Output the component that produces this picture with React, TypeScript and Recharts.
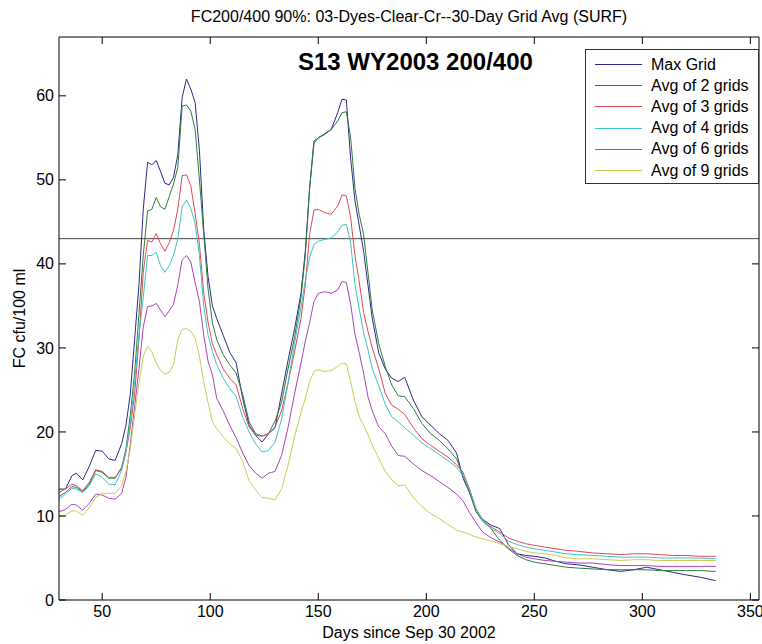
import React from 'react'
import { LineChart, Line, XAxis, YAxis, ReferenceLine, Legend, Label } from 'recharts'

// days since Sep 30 2002
const days = [
    30, 33, 36, 38, 41, 44, 47, 50, 53, 56,
    59, 61, 63, 65, 67, 69, 71, 73, 75, 77,
    79, 81, 83, 85, 87, 89, 91, 93, 95, 97,
    99, 101, 103, 106, 109, 112, 115, 118, 121, 124,
    127, 130, 133, 136, 139, 142, 144, 146, 148, 150,
    153, 156, 159, 161, 163, 165, 167, 169, 171, 173,
    175, 178, 181, 184, 187, 190, 194, 198, 202, 206,
    210, 214, 217, 220, 223, 226, 230, 234, 238, 242,
    246, 250, 255, 260, 265, 270, 277, 284, 290, 296,
    302, 308, 314, 320, 327, 334,
]

const maxGrid = [
    13.2, 13.2, 14.8, 15.1, 14.3, 15.9, 17.8, 17.7, 16.8, 16.6,
    18.6, 20.8, 24.5, 31, 37.5, 46.5, 52.1, 51.8, 52.3, 51,
    49.6, 49.4, 50.3, 53, 59.8, 62, 60.8, 59.2, 53.5, 44,
    38.5, 35, 33.5, 31.5, 29.5, 28.2, 24, 20.8, 19.6, 18.8,
    19.8, 20.5, 24.5, 28.5, 32.2, 36.5, 41.5, 49, 54.6, 55,
    55.5, 56, 58, 59.6, 59.5, 52.5, 47.5, 44.5, 41.5, 37.5,
    33.5, 29.4, 27.5, 26.4, 26, 26.5, 23.8, 21.8, 20.8, 19.8,
    19, 17.5, 14.5, 12.8, 10.8, 9.6, 8.9, 8.5, 6.6, 5.5,
    5.3, 5.2, 5.0, 4.6, 4.3, 4.2, 3.9, 3.6, 3.4, 3.6,
    3.9, 3.6, 3.3, 3.0, 2.7, 2.3,
]

const avg2 = [
    12.3, 12.8, 13.5, 13.4, 12.9, 13.8, 15.4, 15.2, 14.5, 14.5,
    15.8, 18, 22, 27, 34, 41, 46.3, 46.5, 47.9, 46.8,
    46.5, 48, 49.5, 51.5, 58.8, 58.9, 58.2, 56, 50, 43.5,
    37, 33, 31, 29.2, 28, 27, 24.5, 21.2, 19.8, 19.5,
    19.8, 21.3, 23.5, 27.5, 31.2, 36, 41, 49, 54.3, 55,
    55.4, 56, 57, 58, 58.1, 55, 49, 45.8, 43.5, 39,
    34.5, 30.5, 27.8, 25.6, 24.3, 24.2, 22.8, 21, 19.8, 19,
    18, 16.8, 14.8, 12.8, 10.5, 9.4, 8.5, 7.1, 6.1, 5.3,
    4.8, 4.5, 4.3, 4.1, 3.9, 3.8, 3.7, 3.6, 3.6, 3.6,
    3.6, 3.5, 3.5, 3.5, 3.5, 3.4,
]

const avg3 = [
    12.8, 13.2, 13.8, 13.6, 13.0, 14.0, 15.5, 15.3, 14.6, 14.6,
    15.6, 17.6, 20.5, 24.5, 31, 39, 42.8, 42.6, 43.6, 42.4,
    41.5, 42.5, 44, 46.5, 50.5, 50.6, 49.3, 46, 42.4, 36.5,
    33, 30.5, 29.2, 27.5, 26.4, 25.6, 22.8, 20.6, 19.6, 19.5,
    19.8, 20.6, 22.5, 25.8, 29.5, 33.5, 37.5, 43.5, 46.4, 46.5,
    46.1, 45.9, 46.9, 48.2, 48.1, 45.5, 41, 37.8, 34.2, 32,
    30, 27.5, 24.6, 23.2, 22.7, 22.1, 20.5, 19.2, 18.4, 17.7,
    17, 16.1, 15.2, 13.2, 10.8, 9.5, 8.7, 8.1, 7.4, 7.0,
    6.7, 6.5, 6.3, 6.1, 5.9, 5.8, 5.6, 5.5, 5.4, 5.5,
    5.5, 5.4, 5.3, 5.3, 5.2, 5.2,
]

const avg4 = [
    12.0, 12.6, 13.3, 13.2, 12.8, 13.6, 15.0, 14.6, 13.8, 13.7,
    15.4, 17.8, 21, 26, 31.5, 36, 41, 41, 41.4, 39.8,
    39, 39.8, 41, 43, 46.8, 47.6, 46.6, 44.8, 41, 35,
    31.5, 29.6, 28, 26.4, 25.2, 24.2, 21.8, 20, 18.6, 17.6,
    17.8, 18.8, 21.5, 25.8, 30.5, 34.8, 38, 40.8, 42.3, 42.7,
    42.9, 43.1, 43.8, 44.6, 44.7, 42.5, 37.5, 34.6, 31.8, 29.8,
    27.5, 25.5, 23.3, 21.8, 21.2, 20.5, 19.6, 18.7, 18, 17.3,
    16.6, 15.8, 14.8, 13.2, 10.9, 9.5, 8.5, 7.9, 7.0, 6.6,
    6.3, 6.1, 5.9, 5.7, 5.5, 5.4, 5.3, 5.2, 5.1, 5.1,
    5.1, 5.0, 5.0, 5.0, 5.0, 4.9,
]

const avg6 = [
    10.5, 10.8, 11.4, 11.3, 10.7, 11.5, 12.6, 12.5, 12.1, 12.0,
    12.7, 14.6, 18.5, 23, 27.5, 32.5, 34.9, 35, 35.3, 34.5,
    33.7, 34.4, 35.2, 37.5, 40.5, 41, 40.2, 37.8, 35.5, 31.5,
    28.4, 26.8, 24, 22.5, 20.8, 19.3, 17.5, 16, 15.1, 14.5,
    15.1, 15.3, 17.2, 20.5, 24.5, 28.2, 30.8, 33, 35.5, 36.5,
    36.7, 36.5, 36.9, 37.9, 37.8, 35.2, 31.6, 29.4, 27, 24.2,
    22.5, 20.6, 19.8, 18.3, 17.2, 17.1, 16.2, 15.4, 14.8, 14.1,
    13.4, 12.6, 11.8, 10.4, 9.2, 8.1, 7.4, 6.9, 6.2, 5.5,
    5.1, 4.9, 4.7, 4.6, 4.5, 4.4, 4.4, 4.2, 4.1, 4.1,
    4.1, 4.0, 4.0, 4.0, 4.0, 4.0,
]

const avg9 = [
    9.9, 10.1, 10.6, 10.6, 10.1, 11.0, 12.2, 12.7, 12.7, 12.7,
    13.6, 15.3, 18, 22, 25.8, 29, 30.2, 29.5, 28.2, 27.3,
    26.9, 27.1, 28, 31, 32.2, 32.3, 32, 31.2, 29, 26,
    23.5, 21.2, 20.4, 19.4, 18.6, 18, 16.5, 14.2, 13.1, 12.2,
    12.1, 11.9, 13.2, 16, 19.4, 22.3, 24, 26, 27.2, 27.4,
    27.2, 27.3, 27.8, 28.2, 28.1, 26, 23.6, 21.8, 20.8, 19.7,
    18.4, 16.9, 15.3, 14.3, 13.6, 13.7, 12.2, 11.1, 10.3, 9.7,
    9.0, 8.3, 8.1, 7.8, 7.5, 7.3, 7.0, 6.7, 6.4, 6.1,
    5.8, 5.6, 5.5, 5.3, 5.0, 4.9, 4.9, 4.8, 4.7, 4.8,
    4.8, 4.7, 4.7, 4.7, 4.7, 4.7,
]

const seriesNames = ['Max Grid', 'Avg of 2 grids', 'Avg of 3 grids', 'Avg of 4 grids', 'Avg of 6 grids', 'Avg of 9 grids']
const xTicks = [50, 100, 150, 200, 250, 300, 350]
const yTicks = [0, 10, 20, 30, 40, 50, 60]
const standardValue = 43

const chartTitle = 'FC200/400 90%: 03-Dyes-Clear-Cr--30-Day Grid Avg (SURF)'
const stationLabel = 'S13 WY2003 200/400'

const series = [
    { key: 'maxGrid', values: maxGrid, color: '#2a2a8c' },
    { key: 'avg2', values: avg2, color: '#2e7d3e' },
    { key: 'avg3', values: avg3, color: '#dc4a55' },
    { key: 'avg4', values: avg4, color: '#3cc3c3' },
    { key: 'avg6', values: avg6, color: '#a944b8' },
    { key: 'avg9', values: avg9, color: '#cccc55' },
]

const data = days.map((day, i) => {
    const row: { [key: string]: number } = { day }
    series.forEach(s => { row[s.key] = s.values[i] })
    return row
})

const FONT = '"Liberation Sans", Arial, sans-serif'
const TICK_LEN = 7
const X_GAP = 4
const Y_GAP = 5

function BottomTick(props: any) {
    const { x, y, payload } = props
    const axisY = y - X_GAP
    return (
        <g>
            <line x1={x} x2={x} y1={axisY} y2={axisY - TICK_LEN} stroke="#000" />
            <text x={x} y={y} dy="0.8em" textAnchor="middle" fontSize={16} fontFamily={FONT} fill="#000">
                {payload.value}
            </text>
        </g>
    )
}

function LeftTick(props: any) {
    const { x, y, payload } = props
    const axisX = x + Y_GAP
    return (
        <g>
            <line x1={axisX} x2={axisX + TICK_LEN} y1={y} y2={y} stroke="#000" />
            <text x={x} y={y} dy="0.35em" textAnchor="end" fontSize={16} fontFamily={FONT} fill="#000">
                {payload.value}
            </text>
        </g>
    )
}

// top / right frame ticks point inward, no labels
function TopTick(props: any) {
    const { x, y } = props
    return <line x1={x} x2={x} y1={y} y2={y + TICK_LEN} stroke="#000" />
}

function RightTick(props: any) {
    const { x, y } = props
    return <line x1={x} x2={x - TICK_LEN} y1={y} y2={y} stroke="#000" />
}

function LegendBox({ payload }: any) {
    const items = (payload || [])
        .filter((p: any) => seriesNames.includes(p.value))
        .sort((a: any, b: any) => seriesNames.indexOf(a.value) - seriesNames.indexOf(b.value))
    return (
        <div
            style={{
                border: '1px solid #333',
                background: '#fff',
                width: 174,
                height: 135,
                boxSizing: 'border-box',
                padding: '4px 0 0 9px',
                fontFamily: FONT,
            }}
        >
            {items.map((p: any) => (
                <div key={p.value} style={{ display: 'flex', alignItems: 'center', height: 21.2 }}>
                    <span style={{ width: 47, borderTop: `1px solid ${p.color}`, marginRight: 9 }} />
                    <span style={{ fontSize: 16, color: '#000', whiteSpace: 'nowrap' }}>{p.value}</span>
                </div>
            ))}
        </div>
    )
}

export default function App() {
    return (
        <div
            style={{
                position: 'absolute',
                left: 0,
                top: 0,
                width: 762,
                height: 644,
                background: '#fff',
                fontFamily: FONT,
            }}
        >
            <div
                style={{
                    position: 'absolute',
                    left: 59,
                    width: 700,
                    top: 8,
                    textAlign: 'center',
                    fontSize: 16,
                    lineHeight: '18px',
                    color: '#000',
                }}
            >
                {chartTitle}
            </div>
            <LineChart
                width={762}
                height={644}
                data={data}
                margin={{ top: 36, right: 2, bottom: 0, left: 0 }}
            >
                <XAxis
                    dataKey="day"
                    type="number"
                    domain={[30, 354]}
                    allowDataOverflow
                    ticks={xTicks}
                    height={44}
                    tickSize={0}
                    tickMargin={X_GAP}
                    tick={<BottomTick />}
                    axisLine={{ stroke: '#000' }}
                    interval={0}
                >
                    <Label
                        value="Days since Sep 30 2002"
                        position="insideBottom"
                        offset={6}
                        fontSize={16}
                        fill="#000"
                    />
                </XAxis>
                <XAxis
                    xAxisId="top"
                    dataKey="day"
                    orientation="top"
                    type="number"
                    domain={[30, 354]}
                    allowDataOverflow
                    ticks={xTicks}
                    height={1}
                    tickSize={0}
                    tickMargin={0}
                    tick={<TopTick />}
                    axisLine={{ stroke: '#000' }}
                    interval={0}
                />
                <YAxis
                    type="number"
                    domain={[0, 67]}
                    allowDataOverflow
                    ticks={yTicks}
                    width={59}
                    tickSize={0}
                    tickMargin={Y_GAP}
                    tick={<LeftTick />}
                    axisLine={{ stroke: '#000' }}
                    interval={0}
                >
                    <Label
                        content={(props: any) => {
                            const vb = props.viewBox || { x: 0, y: 37, height: 563 }
                            const cx = vb.x + 19
                            const cy = vb.y + vb.height / 2
                            return (
                                <text
                                    x={cx}
                                    y={cy}
                                    transform={`rotate(-90, ${cx}, ${cy})`}
                                    textAnchor="middle"
                                    dominantBaseline="central"
                                    fontSize={16}
                                    fontFamily={FONT}
                                    fill="#000"
                                >
                                    FC cfu/100 ml
                                </text>
                            )
                        }}
                    />
                </YAxis>
                <YAxis
                    yAxisId="right"
                    orientation="right"
                    type="number"
                    domain={[0, 67]}
                    allowDataOverflow
                    ticks={yTicks}
                    width={1}
                    tickSize={0}
                    tickMargin={0}
                    tick={<RightTick />}
                    axisLine={{ stroke: '#000' }}
                    interval={0}
                />
                <ReferenceLine y={standardValue} stroke="#444" strokeWidth={1} />
                {series.map((s, i) => (
                    <Line
                        key={s.key}
                        type="linear"
                        dataKey={s.key}
                        name={seriesNames[i]}
                        stroke={s.color}
                        strokeWidth={1}
                        dot={false}
                        activeDot={false}
                        isAnimationActive={false}
                    />
                ))}
                {/* invisible series so the top/right frame axes get a scale */}
                <Line
                    xAxisId="top"
                    yAxisId="right"
                    dataKey="maxGrid"
                    name="frame"
                    stroke="none"
                    dot={false}
                    activeDot={false}
                    legendType="none"
                    isAnimationActive={false}
                />
                <Legend
                    layout="vertical"
                    align="center"
                    verticalAlign="middle"
                    content={<LegendBox />}
                    wrapperStyle={{ position: 'absolute', left: 585, top: 49, width: 'auto', height: 'auto' }}
                />
            </LineChart>
            <div
                style={{
                    position: 'absolute',
                    left: 298,
                    top: 48,
                    fontSize: 24,
                    fontWeight: 'bold',
                    lineHeight: '28px',
                    color: '#000',
                    whiteSpace: 'nowrap',
                }}
            >
                {stationLabel}
            </div>
        </div>
    )
}
